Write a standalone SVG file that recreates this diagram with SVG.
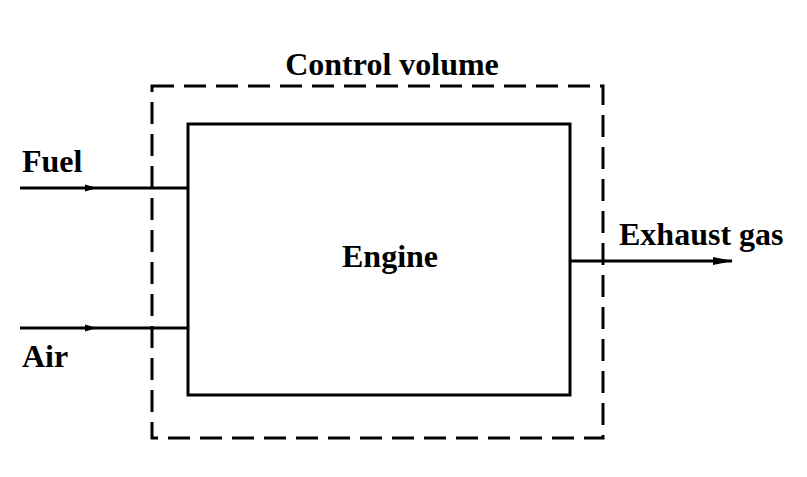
<svg xmlns="http://www.w3.org/2000/svg" width="807" height="477" viewBox="0 0 807 477">
<style>
.t{font-family:"Liberation Serif","Times New Roman",serif;font-size:32px;font-weight:bold;fill:#000}
.ln{stroke:#000;stroke-width:3;fill:none}
</style>
<defs>
<marker id="ah" markerWidth="12" markerHeight="8" refX="6" refY="4" orient="auto" markerUnits="userSpaceOnUse">
<path d="M0,0.5 L12,4 L0,7.5 Z" fill="#000"/>
</marker>
<marker id="ae" markerWidth="20" markerHeight="10" refX="19" refY="5" orient="auto" markerUnits="userSpaceOnUse">
<path d="M0,1 L20,5 L0,9 Z" fill="#000"/>
</marker>
</defs>
<rect width="807" height="477" fill="#fff"/>
<g id="control-volume">
<rect x="152" y="86" width="451" height="352" class="ln" stroke-dasharray="22 10"/>
<text class="t" x="392" y="75" text-anchor="middle">Control volume</text>
</g>
<g id="engine">
<rect x="188" y="124" width="382" height="271" class="ln"/>
<text class="t" x="390" y="267" text-anchor="middle">Engine</text>
</g>
<g id="fuel"><text class="t" x="22" y="172">Fuel</text></g>
<g id="air"><text class="t" x="22" y="367">Air</text></g>
<g id="exhaust"><text class="t" x="619" y="245">Exhaust gas</text></g>
<g id="connectors">
<path d="M20,188 L91,188 L188,188" class="ln" marker-mid="url(#ah)"/>
<path d="M20,328 L91,328 L188,328" class="ln" marker-mid="url(#ah)"/>
<path d="M570,261 L732,261" class="ln" marker-end="url(#ae)"/>
</g>
</svg>
